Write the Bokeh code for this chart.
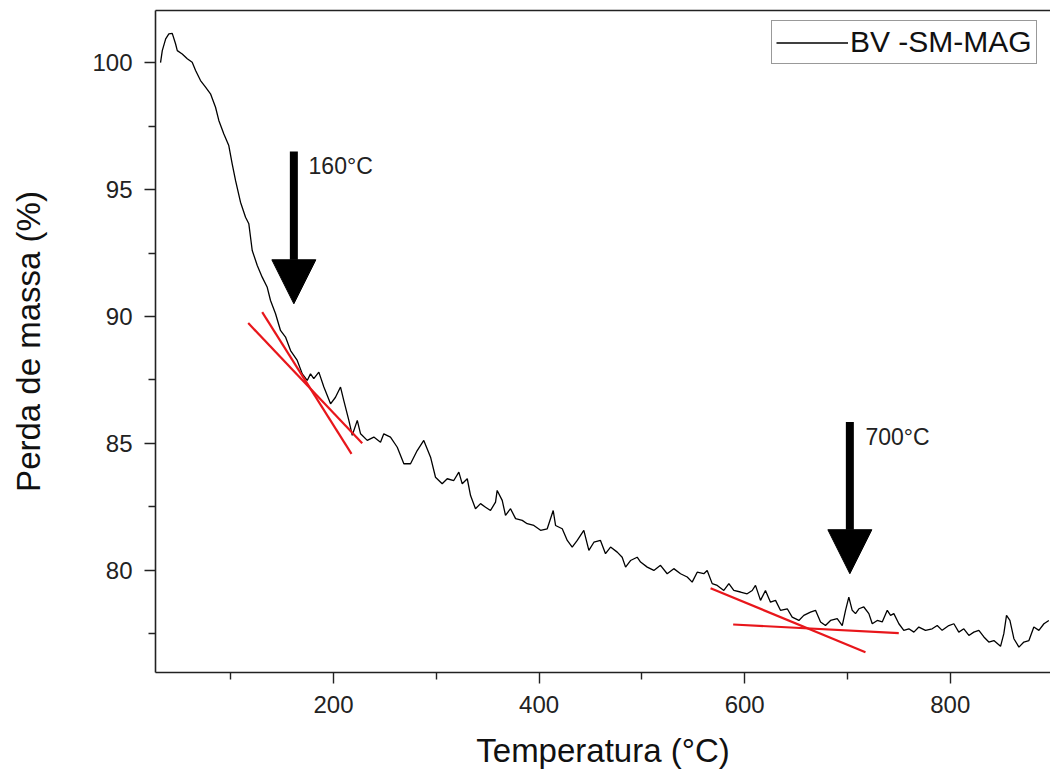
from bokeh.plotting import figure
from bokeh.models import (Range1d, FixedTicker, LinearAxis, Arrow, NormalHead,
                          Label, Legend, LegendItem)
from bokeh.embed import file_html
from bokeh.resources import INLINE

# ---- data (Temperature °C, mass %) ----
temp = [31.7, 33.4, 36.7, 39.8, 43.1, 46.3, 48.0, 52.8, 57.7, 62.5, 65.8, 70.6, 75.5, 80.3,
        85.2, 88.4, 93.3, 98.1, 101.4, 104.7, 109.5, 114.4, 117.6, 120.9, 125.8, 130.6,
        135.5, 138.7, 143.6, 148.4, 153.3, 158.2, 164.7, 169.6, 174.4, 177.6, 180.8, 185.7,
        190.6, 197.1, 201.9, 206.8, 210.0, 214.9, 218.2, 223.1, 226.3, 232.8, 239.2, 245.7,
        248.9, 255.4, 262.0, 268.4, 274.9, 281.4, 287.8, 294.4, 299.2, 305.7, 310.6, 317.0,
        321.9, 325.2, 330.1, 333.3, 338.1, 343.0, 347.9, 352.7, 357.6, 359.2, 364.1, 367.3,
        372.2, 377.1, 383.6, 388.4, 394.9, 401.4, 407.9, 413.7, 416.0, 422.5, 427.4, 432.2,
        437.1, 443.5, 448.4, 453.3, 459.7, 464.6, 469.5, 476.0, 480.8, 484.1, 488.9, 495.4,
        498.7, 505.2, 511.6, 518.1, 524.6, 531.0, 537.6, 544.1, 548.9, 553.8, 560.2, 563.5,
        568.4, 573.3, 579.7, 584.6, 589.4, 595.9, 602.4, 607.3, 610.5, 615.4, 620.2, 625.1,
        630.0, 634.8, 641.4, 646.2, 652.7, 657.5, 664.0, 668.9, 673.8, 678.6, 683.5, 690.0,
        694.9, 698.1, 701.3, 704.6, 707.8, 711.1, 715.9, 720.8, 724.1, 729.0, 733.8, 738.7,
        741.9, 745.1, 750.0, 754.8, 759.7, 764.6, 769.4, 775.9, 782.4, 787.3, 792.1, 798.6,
        803.5, 808.3, 813.2, 818.1, 822.9, 827.8, 832.7, 837.5, 842.4, 848.9, 852.1, 854.7,
        858.0, 861.9, 866.8, 871.6, 876.5, 881.3, 886.2, 891.1, 895.9]
mass = [100.00, 100.47, 100.93, 101.13, 101.15, 100.74, 100.47, 100.34, 100.15, 100.01, 99.69,
        99.29, 99.03, 98.77, 98.24, 97.72, 97.19, 96.73, 96.01, 95.35, 94.50, 93.91, 93.65,
        92.60, 92.01, 91.55, 91.15, 90.63, 90.11, 89.45, 89.19, 88.66, 88.27, 87.74, 87.48,
        87.74, 87.55, 87.81, 87.22, 86.56, 86.82, 87.22, 86.69, 85.91, 85.32, 85.91, 85.38,
        85.12, 85.25, 85.05, 85.38, 85.25, 84.85, 84.20, 84.20, 84.72, 85.12, 84.46, 83.67,
        83.41, 83.61, 83.54, 83.87, 83.41, 83.61, 82.95, 82.43, 82.63, 82.49, 82.36, 82.69,
        83.15, 82.76, 82.17, 82.43, 82.04, 81.97, 81.84, 81.77, 81.58, 81.64, 82.36, 81.77,
        81.64, 81.18, 80.92, 81.18, 81.58, 80.79, 81.11, 81.18, 80.66, 80.92, 80.72, 80.52,
        80.13, 80.39, 80.52, 80.33, 80.13, 80.00, 80.20, 79.87, 80.07, 79.87, 79.74, 79.54,
        79.93, 79.87, 80.00, 79.48, 79.41, 79.21, 79.48, 79.21, 79.15, 79.08, 79.21, 79.41,
        78.82, 79.21, 78.75, 78.82, 78.43, 78.49, 78.16, 78.03, 78.23, 78.36, 78.43, 77.97,
        77.83, 78.03, 78.10, 77.83, 78.43, 78.95, 78.43, 78.30, 78.49, 78.56, 78.30, 77.90,
        78.03, 77.97, 78.43, 78.23, 78.30, 77.90, 77.64, 77.70, 77.57, 77.77, 77.64, 77.70,
        77.83, 77.64, 77.83, 77.90, 77.57, 77.70, 77.44, 77.57, 77.64, 77.38, 77.18, 77.24,
        77.01, 77.51, 78.23, 78.03, 77.31, 76.98, 77.18, 77.24, 77.77, 77.64, 77.90, 78.03]

series_label = "BV -SM-MAG"

# tangent (onset) lines
tangent_t = [[117.0, 227.9], [130.6, 217.5], [566.8, 717.5], [588.8, 749.9]]
tangent_m = [[89.74, 85.01], [90.17, 84.59], [79.30, 76.78], [77.87, 77.53]]

# arrows and their labels
arrow_t = [161.4, 702.3]
arrow_top = [96.5, 85.84]
arrow_tip = [90.5, 79.87]
arrow_text = ["160°C", "700°C"]
text_t = [175.7, 717.5]
text_m = [95.94, 85.25]

x_major = [200, 400, 600, 800]
x_minor = [100, 300, 500, 700, 900]
y_major = [80, 85, 90, 95, 100]
y_minor = [77.5, 82.5, 87.5, 92.5, 97.5]

FONT = "Liberation Sans"
AXC = "#222222"

p = figure(width=1050, height=776, output_backend="svg", toolbar_location=None,
           x_range=Range1d(26.8, 897.5), y_range=Range1d(75.98, 102.05),
           min_border_left=155, min_border_right=0, min_border_top=10,
           min_border_bottom=104, outline_line_color=None,
           x_axis_label="Temperatura (°C)", y_axis_label="Perda de massa (%)")
p.background_fill_color = "white"
p.border_fill_color = "white"
p.grid.visible = False

for ax in (p.xaxis[0], p.yaxis[0]):
    ax.axis_line_color = AXC
    ax.axis_line_width = 1.6
    ax.major_tick_line_color = AXC
    ax.minor_tick_line_color = AXC
    ax.major_tick_line_width = 1.4
    ax.minor_tick_line_width = 1.4
    ax.major_tick_in = 0
    ax.major_tick_out = 11
    ax.minor_tick_in = 0
    ax.minor_tick_out = 7
    ax.major_label_text_font = FONT
    ax.major_label_text_font_size = "24px"
    ax.major_label_text_color = AXC
    ax.axis_label_text_font = FONT
    ax.axis_label_text_font_size = "33px"
    ax.axis_label_text_font_style = "normal"
    ax.axis_label_text_color = "#111111"

p.xaxis[0].ticker = FixedTicker(ticks=x_major, minor_ticks=x_minor)
p.yaxis[0].ticker = FixedTicker(ticks=y_major, minor_ticks=y_minor)
p.xaxis[0].major_label_standoff = 12
p.yaxis[0].major_label_standoff = 12
p.xaxis[0].axis_label_standoff = 16
p.yaxis[0].axis_label_standoff = 42

top_axis = LinearAxis(ticker=FixedTicker(ticks=[]), axis_line_color=AXC, axis_line_width=1.6,
                      major_tick_out=0, major_tick_in=0, minor_tick_out=0, minor_tick_in=0,
                      major_label_text_font_size="0px", major_label_standoff=0)
p.add_layout(top_axis, "above")

line_r = p.line(temp, mass, line_color="black", line_width=1.3)

for tt, mm in zip(tangent_t, tangent_m):
    p.line(tt, mm, line_color="#e8161b", line_width=2.2)

for i in range(len(arrow_t)):
    p.add_layout(Arrow(x_start=arrow_t[i], y_start=arrow_top[i], x_end=arrow_t[i], y_end=arrow_tip[i],
                       line_color="black", line_width=8,
                       end=NormalHead(size=44, fill_color="black", line_color="black", line_width=1)))
    p.add_layout(Label(x=text_t[i], y=text_m[i], text=arrow_text[i], text_font=FONT,
                       text_font_size="23px", text_color="#222222", text_baseline="middle"))

legend = Legend(items=[LegendItem(label=series_label, renderers=[line_r])],
                location=(616, 608), border_line_color="#333333", border_line_width=1.4,
                padding=4, spacing=0, label_standoff=2, glyph_width=72, glyph_height=31,
                label_height=31, label_text_font=FONT, label_text_font_size="30px",
                label_text_color="#111111", background_fill_alpha=1.0, margin=0)
p.add_layout(legend)

open("out.html", "w").write(file_html(p, INLINE))
